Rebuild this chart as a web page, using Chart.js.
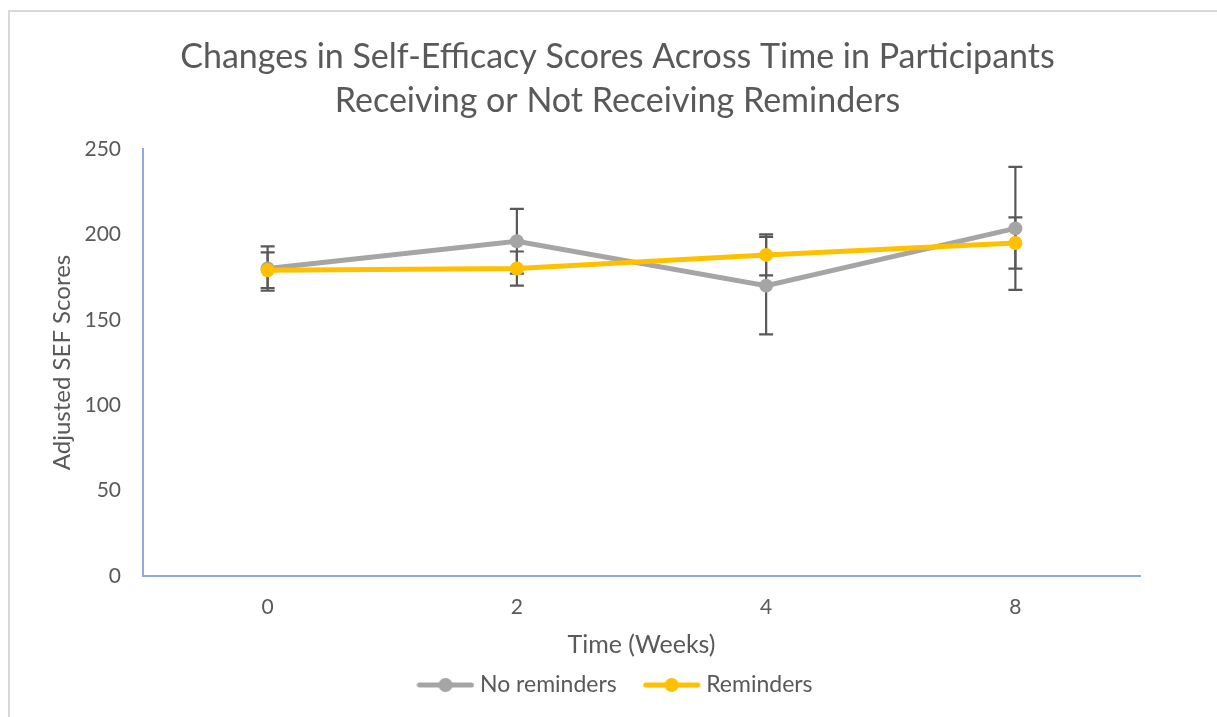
<!DOCTYPE html>
<html>
<head>
<meta charset="utf-8">
<script src="https://cdn.jsdelivr.net/npm/chart.js@4.4.1/dist/chart.umd.min.js"></script>
<style>
  html, body { margin: 0; padding: 0; background: #ffffff; }
  #wrap { width: 1217px; height: 717px; position: relative; }
</style>
</head>
<body>
<div id="wrap"><canvas id="c" width="1217" height="717"></canvas></div>
<script>
const weeks = ['0', '2', '4', '8'];
const noReminders = [180, 196, 170, 203.5];
const noRemindersErr = [13, 19, 28.5, 36];
const reminders = [179, 180, 188, 195];
const remindersErr = [10.5, 10, 12, 15];
const yTicks = [0, 50, 100, 150, 200, 250];

const GRAY = '#A5A5A5';
const YELLOW = '#FFC000';
const TEXT = '#595959';
const FONT = 'Lato, "Open Sans", sans-serif';

function legendIcon(color) {
  const c = document.createElement('canvas');
  c.width = 58; c.height = 16;
  const g = c.getContext('2d');
  g.strokeStyle = color; g.lineWidth = 5; g.lineCap = 'round';
  g.beginPath(); g.moveTo(3, 8); g.lineTo(55, 8); g.stroke();
  g.fillStyle = color;
  g.beginPath(); g.arc(29, 8, 7, 0, Math.PI * 2); g.fill();
  return c;
}
const icons = [legendIcon(GRAY), legendIcon(YELLOW)];

const errorBars = {
  id: 'errorBars',
  beforeDatasetsDraw(chart) {
    const ctx = chart.ctx;
    const xs = chart.scales.x, ys = chart.scales.y;
    const sets = [[noReminders, noRemindersErr], [reminders, remindersErr]];
    ctx.save();
    ctx.strokeStyle = '#595959';
    ctx.lineWidth = 2.2;
    sets.forEach(([vals, errs]) => {
      vals.forEach((v, i) => {
        const x = xs.getPixelForValue(i);
        const yT = ys.getPixelForValue(v + errs[i]);
        const yB = ys.getPixelForValue(v - errs[i]);
        ctx.beginPath();
        ctx.moveTo(x, yT); ctx.lineTo(x, yB);
        ctx.moveTo(x - 7, yT); ctx.lineTo(x + 7, yT);
        ctx.moveTo(x - 7, yB); ctx.lineTo(x + 7, yB);
        ctx.stroke();
      });
    });
    ctx.restore();
  }
};

const frame = {
  id: 'frame',
  beforeDraw(chart) {
    const ctx = chart.ctx;
    ctx.save();
    ctx.fillStyle = '#ffffff';
    ctx.fillRect(0, 0, chart.width, chart.height);
    ctx.strokeStyle = '#D9D9D9';
    ctx.lineWidth = 2;
    ctx.beginPath();
    ctx.moveTo(9, chart.height);
    ctx.lineTo(9, 11);
    ctx.lineTo(chart.width, 11);
    ctx.stroke();
    ctx.restore();
  }
};

new Chart(document.getElementById('c'), {
  type: 'line',
  data: {
    labels: weeks,
    datasets: [
      {
        label: 'No reminders',
        data: noReminders,
        borderColor: GRAY,
        backgroundColor: GRAY,
        borderWidth: 5,
        pointRadius: 7,
        pointBorderWidth: 0,
        pointBackgroundColor: GRAY,
        tension: 0,
        order: 1
      },
      {
        label: 'Reminders',
        data: reminders,
        borderColor: YELLOW,
        backgroundColor: YELLOW,
        borderWidth: 5,
        pointRadius: 7,
        pointBorderWidth: 0,
        pointBackgroundColor: YELLOW,
        tension: 0,
        order: 0
      }
    ]
  },
  options: {
    responsive: false,
    animation: false,
    devicePixelRatio: 1,
    layout: { padding: { left: 18, right: 0, top: 0, bottom: 10.5 } },
    plugins: {
      title: {
        display: true,
        text: ['Changes in Self-Efficacy Scores Across Time in Participants', 'Receiving or Not Receiving Reminders'],
        color: TEXT,
        font: { family: FONT, size: 34, weight: 'normal', lineHeight: 44 / 34 },
        padding: { top: 35, bottom: 26 }
      },
      legend: {
        position: 'bottom',
        labels: {
          color: TEXT,
          font: { family: FONT, size: 23 },
          usePointStyle: true,
          pointStyleWidth: 46,
          boxHeight: 14,
          padding: 32,
          generateLabels(chart) {
            return chart.data.datasets.map((ds, i) => ({
              text: ds.label,
              pointStyle: icons[i],
              fillStyle: ds.borderColor,
              strokeStyle: ds.borderColor,
              lineWidth: 0,
              fontColor: TEXT,
              datasetIndex: i,
              hidden: false
            }));
          }
        }
      },
      tooltip: { enabled: false }
    },
    scales: {
      x: {
        type: 'category',
        offset: true,
        grid: { display: false, drawTicks: false },
        border: { display: true, color: '#8FAADC', width: 2 },
        ticks: { color: TEXT, font: { family: FONT, size: 21 }, padding: 19 },
        title: {
          display: true,
          text: 'Time (Weeks)',
          color: TEXT,
          font: { family: FONT, size: 25 },
          padding: { top: 0, bottom: -18.5 }
        },
        afterFit(s) { s.height = 65.5; }
      },
      y: {
        min: 0,
        max: 250,
        grid: { display: false, drawTicks: false },
        border: { display: true, color: '#8FAADC', width: 2 },
        afterBuildTicks(s) { s.ticks = yTicks.map(v => ({ value: v })); },
        ticks: { color: TEXT, font: { family: FONT, size: 21 }, padding: 22 },
        title: {
          display: true,
          text: 'Adjusted SEF Scores',
          color: TEXT,
          font: { family: FONT, size: 24 },
          padding: { top: 29.6, bottom: 0 }
        },
        afterFit(s) { s.width = 125; }
      },
      yRight: {
        type: 'linear',
        position: 'right',
        display: true,
        min: 0,
        max: 250,
        grid: { display: false, drawTicks: false },
        border: { display: false },
        ticks: { display: false },
        afterFit(s) { s.width = 77; }
      }
    }
  },
  plugins: [frame, errorBars]
});
</script>
</body>
</html>
